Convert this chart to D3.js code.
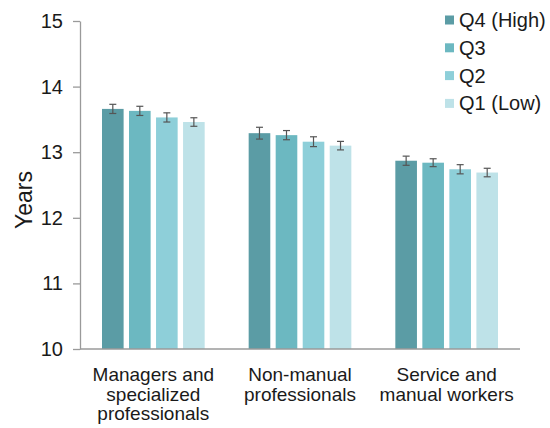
<!DOCTYPE html>
<html>
<head>
<meta charset="utf-8">
<script src="https://cdn.jsdelivr.net/npm/d3@7"></script>
<style>
  html, body { margin: 0; padding: 0; background: #fff; }
  svg { display: block; font-family: "Liberation Sans", Arial, sans-serif; }
</style>
</head>
<body>
<svg id="chart" width="550" height="428"></svg>
<script>
// Occupational groups (multi-line labels) and income quartiles
const categories = [
  ["Managers and", "specialized", "professionals"],
  ["Non-manual", "professionals"],
  ["Service and", "manual workers"]
];
const quartiles = ["Q4 (High)", "Q3", "Q2", "Q1 (Low)"];

// Mean years of schooling per quartile, one array per occupational group
const managersYears   = [13.66, 13.63, 13.53, 13.46];
const nonManualYears  = [13.29, 13.26, 13.16, 13.10];
const serviceYears    = [12.87, 12.84, 12.74, 12.69];

// Half-width of the error bars
const managersErr  = [0.07, 0.07, 0.07, 0.065];
const nonManualErr = [0.09, 0.07, 0.075, 0.065];
const serviceErr   = [0.07, 0.06, 0.07, 0.065];

const yTicks = [10, 11, 12, 13, 14, 15];
const colors = ["#5b9ca5", "#6cb8c1", "#8ecfd9", "#bee2e8"];

const seriesValues = [managersYears, nonManualYears, serviceYears];
const seriesErrors = [managersErr, nonManualErr, serviceErr];

const svg = d3.select("#chart");
const plotLeft = 80, plotRight = 520, plotTop = 21, plotBottom = 349;
const textColor = "#1a1a1a";

const x0 = d3.scaleBand().domain(d3.range(categories.length))
  .range([plotLeft, plotRight]).paddingInner(0.3).paddingOuter(0.15);
const x1 = d3.scaleBand().domain(d3.range(quartiles.length))
  .range([0, x0.bandwidth()]).paddingInner(0.2).paddingOuter(0);
const y = d3.scaleLinear().domain([10, 15]).range([plotBottom, plotTop]);
const color = d3.scaleOrdinal().domain(d3.range(quartiles.length)).range(colors);

// Bars
const groups = svg.append("g").selectAll("g")
  .data(categories.map((c, i) => i))
  .join("g")
  .attr("transform", i => `translate(${x0(i)},0)`);

const rows = i => seriesValues[i].map((v, q) => ({ v, q, e: seriesErrors[i][q] }));

groups.selectAll("rect")
  .data(rows)
  .join("rect")
  .attr("x", d => x1(d.q))
  .attr("y", d => y(d.v))
  .attr("width", x1.bandwidth())
  .attr("height", d => y(10) - y(d.v))
  .attr("fill", d => color(d.q));

// Error bars
const cx = d => x1(d.q) + x1.bandwidth() / 2;
const err = groups.selectAll("g.err")
  .data(rows)
  .join("g").attr("class", "err")
  .attr("stroke", "#555").attr("stroke-width", 1.2);
err.append("line")
  .attr("x1", cx).attr("x2", cx)
  .attr("y1", d => y(d.v + d.e)).attr("y2", d => y(d.v - d.e));
err.append("line")
  .attr("x1", d => cx(d) - 3.5).attr("x2", d => cx(d) + 3.5)
  .attr("y1", d => y(d.v + d.e)).attr("y2", d => y(d.v + d.e));
err.append("line")
  .attr("x1", d => cx(d) - 3.5).attr("x2", d => cx(d) + 3.5)
  .attr("y1", d => y(d.v - d.e)).attr("y2", d => y(d.v - d.e));

// Y axis
const yAxis = svg.append("g").attr("transform", `translate(${plotLeft},0)`)
  .call(d3.axisLeft(y).tickValues(yTicks).tickFormat(d3.format("d"))
    .tickSize(7).tickSizeOuter(0).tickPadding(10));
yAxis.select(".domain").attr("stroke", "#9a9a9a").attr("stroke-width", 1.3);
yAxis.selectAll(".tick line").attr("stroke", "#9a9a9a").attr("stroke-width", 1.3);
yAxis.selectAll(".tick text").attr("font-size", 20).attr("fill", textColor)
  .attr("font-family", "Liberation Sans, Arial, sans-serif");

// X axis baseline
svg.append("line")
  .attr("x1", plotLeft).attr("x2", plotRight)
  .attr("y1", y(10)).attr("y2", y(10))
  .attr("stroke", "#9a9a9a").attr("stroke-width", 1.3);

// Category labels, one text per line
const lineGap = 19.5;
svg.append("g").selectAll("text")
  .data(categories.flatMap((c, i) => c.map((t, k) => ({ t, i, k }))))
  .join("text")
  .attr("text-anchor", "middle")
  .attr("font-size", 19).attr("fill", textColor)
  .attr("x", d => x0(d.i) + x0.bandwidth() / 2)
  .attr("y", d => 381 + d.k * lineGap)
  .text(d => d.t);

// Y axis title
svg.append("text")
  .attr("transform", "translate(32,200) rotate(-90)")
  .attr("text-anchor", "middle")
  .attr("font-size", 23).attr("fill", textColor)
  .text("Years");

// Legend
const legend = svg.append("g").selectAll("g")
  .data(quartiles.map((q, i) => ({ q, i })))
  .join("g")
  .attr("transform", d => `translate(445,${20 + d.i * 27.8})`);
legend.append("rect")
  .attr("x", 0).attr("y", -4.5).attr("width", 9).attr("height", 9)
  .attr("fill", d => color(d.i));
legend.append("text")
  .attr("x", 14).attr("y", 7)
  .attr("font-size", 20).attr("fill", textColor)
  .text(d => d.q);
</script>
</body>
</html>
